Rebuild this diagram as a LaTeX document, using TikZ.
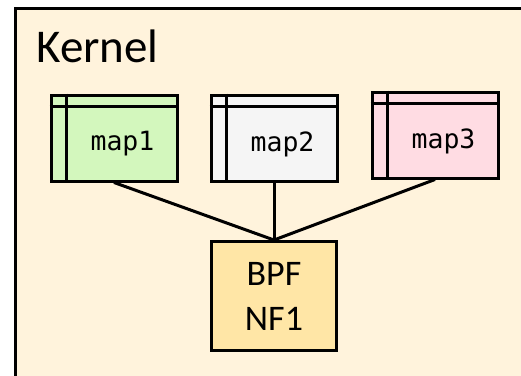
\documentclass[tikz,border=0pt]{standalone}
\usepackage{fontspec}
\setmainfont{Carlito}
\setmonofont{DejaVu Sans Mono}
\definecolor{kbg}{HTML}{FFF3DC}
\definecolor{mapA}{HTML}{D3F7BD}
\definecolor{mapB}{HTML}{F5F5F5}
\definecolor{mapC}{HTML}{FFDCE3}
\definecolor{bpf}{HTML}{FFE6A6}
\begin{document}
\begin{tikzpicture}[x=1pt,y=-1pt,
  line width=3pt,
  mapbox/.style={draw=black, minimum width=126pt, minimum height=86pt, inner sep=0pt},
  maptext/.style={font=\fontsize{26.5}{30}\selectfont\ttfamily, inner sep=0pt},
  link/.style={draw=black, line width=3pt}]
\useasboundingbox (0,0) rectangle (521,375);
\fill[white] (0,0) rectangle (521,375);
\fill[kbg] (15,8) rectangle (530,385);
\draw[line width=3pt] (15,385) -- (15,8) -- (530,8);
\node[anchor=base west, inner sep=0pt, font=\fontsize{47}{50}\selectfont] (kernel) at (35,62) {Kernel};
% maps
\node[mapbox, fill=mapA] (m1) at (114,138) {};
\node[mapbox, fill=mapB] (m2) at (274,138) {};
\node[mapbox, fill=mapC] (m3) at (435,135) {};
\foreach \m in {m1,m2,m3}{
  \draw ([yshift=-13pt]\m.north west) -- ([yshift=-13pt]\m.north east);
  \draw ([xshift=17pt]\m.north west) -- ([xshift=17pt]\m.south west);
}
\node[maptext] (t1) at ([xshift=8.5pt,yshift=-6pt]m1.center) {map1};
\node[maptext] (t2) at ([xshift=8.5pt,yshift=-6pt]m2.center) {map2};
\node[maptext] (t3) at ([xshift=8.5pt,yshift=-6pt]m3.center) {map3};
% BPF
\node[draw=black, fill=bpf, minimum width=125pt, minimum height=109pt, inner sep=0pt,
  align=center, font=\fontsize{36}{45}\selectfont] (bpf) at (274,296) {BPF\\NF1};
\draw[link] (m1.south) -- (bpf.north);
\draw[link] (m2.south) -- (bpf.north);
\draw[link] (m3.south) -- (bpf.north);
\end{tikzpicture}
\end{document}
